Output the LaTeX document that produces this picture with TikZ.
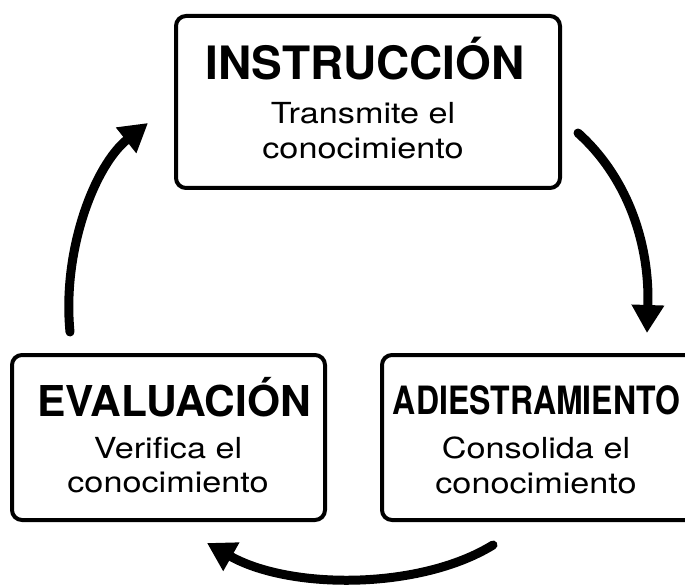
\documentclass[tikz,border=0pt]{standalone}
\usepackage{fontspec}
\setmainfont{TeX Gyre Heros}
\newfontfamily\bodyfont[FakeStretch=1.18]{TeX Gyre Heros}
\newfontfamily\narrowfont[FakeStretch=0.82]{TeX Gyre Heros}
\usetikzlibrary{arrows.meta}
\tikzset{
    stage/.style={draw, line width=4pt, rounded corners=10pt, inner sep=0pt},
    heading/.style={anchor=base, inner sep=0pt},
    caption/.style={anchor=base, inner sep=0pt, font={\bodyfont\fontsize{29}{34}\selectfont}},
    loop arrow/.style={line width=9pt, line cap=round, -{Triangle[width=31pt, length=28pt]}}
}

\begin{document}
\begin{tikzpicture}[x=1pt, y=-1pt]
        \useasboundingbox (0,0) rectangle (685,585);
        \clip (0,0) rectangle (685,585);
        \node[stage, minimum width=384pt, minimum height=172pt] (instr) at (368,102) {};
        \node[stage, minimum width=313pt, minimum height=165pt] (eval) at (168.5,437.5) {};
        \node[stage, minimum width=318pt, minimum height=165pt] (adies) at (541,437.5) {};
        \node[heading, font={\bfseries\fontsize{46}{50}\selectfont}] (instrT) at (365,80) {INSTRUCCIÓN};
        \node[caption] (instrA) at (363,124) {Transmite el};
        \node[caption] (instrB) at (363,159) {conocimiento};
        \node[heading, font={\bfseries\fontsize{42.5}{46}\selectfont}] (evalT) at (174,416) {EVALUACIÓN};
        \node[caption] (evalA) at (168,458) {Verifica el};
        \node[caption] (evalB) at (168,492) {conocimiento};
        \node[heading, font={\narrowfont\bfseries\fontsize{39}{43}\selectfont}] (adiesT) at (536.5,414) {ADIESTRAMIENTO};
        \node[caption] (adiesA) at (536,458) {Consolida el};
        \node[caption] (adiesB) at (536,493) {conocimiento};
        \coordinate (rOut) at (578,133);
        \coordinate (rIn) at (647,333);
        \coordinate (bOut) at (493,545);
        \coordinate (bIn) at (207,543);
        \coordinate (lOut) at (70,332);
        \coordinate (lIn) at (148,123);
        \draw[loop arrow] (rOut) .. controls (625,175) and (650,240) .. (rIn);
        \draw[loop arrow] (bOut) .. controls (420,590) and (290,590) .. (bIn);
        \draw[loop arrow] (lOut) .. controls (62,250) and (95,165) .. (lIn);
    \end{tikzpicture}
\end{document}
